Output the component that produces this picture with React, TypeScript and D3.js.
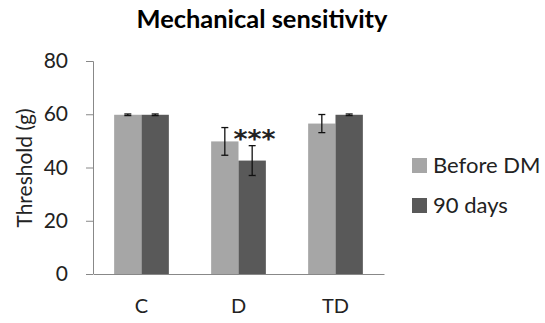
import { useEffect, useRef } from 'react';
import * as d3 from 'd3';

const width = 545;
const height = 323;
const [mt, mr, mb, ml] = [61, 161, 49, 93];
const graphWidth = width - ml - mr;
const graphHeight = height - mt - mb;

const categories = ['C', 'D', 'TD'];
const seriesNames = ['Before DM', '90 days'];
const beforeDM = [59.8, 49.8, 56.5];
const days90 = [59.8, 42.6, 59.8];
const beforeErr = [0.3, 5.2, 3.4];
const days90Err = [0.3, 5.6, 0.3];
const yTicks = [0, 20, 40, 60, 80];
const colors = ['#a6a6a6', '#595959'];
const font = 'Lato, "Open Sans", sans-serif';

function App() {
    const ref = useRef<HTMLDivElement>(null);

    useEffect(() => {
        const root = d3.select(ref.current);
        root.selectAll('*').remove();

        const svg = root
            .append('svg')
            .attr('width', width)
            .attr('height', height)
            .style('display', 'block')
            .style('background', '#fff');

        svg.append('text')
            .attr('x', 262)
            .attr('y', 28)
            .attr('text-anchor', 'middle')
            .attr('font-family', font)
            .attr('font-weight', 'bold')
            .attr('font-size', 24.5)
            .attr('textLength', 251)
            .attr('lengthAdjust', 'spacingAndGlyphs')
            .attr('fill', '#000')
            .text('Mechanical sensitivity');

        const graph = svg.append('g').attr('transform', `translate(${ml}, ${mt})`);

        const x = d3.scaleBand().domain(categories).range([0, graphWidth]).paddingInner(0.436).paddingOuter(0.218);
        const xs = d3.scaleBand().domain(seriesNames).range([0, x.bandwidth()]);
        const y = d3.scaleLinear().domain([0, 80]).range([graphHeight, 0]);

        // y axis
        const yAxisG = graph.append('g').call(d3.axisLeft(y).tickValues(yTicks).tickSize(7).tickPadding(18));
        yAxisG.select('.domain').attr('stroke', '#888').attr('d', `M-7,0.5H0.5V${graphHeight}`);
        yAxisG.selectAll('.tick line').attr('stroke', '#888');
        yAxisG.selectAll('.tick text').attr('font-family', font).attr('font-size', 21).attr('fill', '#222');

        // x axis
        const xAxisG = graph
            .append('g')
            .attr('transform', `translate(0, ${graphHeight})`)
            .call(d3.axisBottom(x).tickSize(0).tickPadding(25));
        xAxisG.select('.domain').attr('stroke', '#888');
        xAxisG.selectAll('.tick text').attr('font-family', font).attr('font-size', 20).attr('fill', '#222');

        const rows = categories.map((c, i) => ({
            c,
            vals: [
                { s: seriesNames[0], v: beforeDM[i], e: beforeErr[i] },
                { s: seriesNames[1], v: days90[i], e: days90Err[i] }
            ]
        }));

        const groups = graph
            .selectAll('g.grp')
            .data(rows)
            .enter()
            .append('g')
            .attr('class', 'grp')
            .attr('transform', (d) => `translate(${x(d.c)}, 0)`);

        groups
            .selectAll('rect')
            .data((d) => d.vals)
            .enter()
            .append('rect')
            .attr('x', (d) => xs(d.s)!)
            .attr('width', xs.bandwidth())
            .attr('y', (d) => y(d.v))
            .attr('height', (d) => graphHeight - y(d.v))
            .attr('fill', (d, i) => colors[i]);

        const err = groups
            .selectAll('g.err')
            .data((d) => d.vals)
            .enter()
            .append('g')
            .attr('class', 'err')
            .attr('stroke', '#111')
            .attr('stroke-width', 1.3);
        const cx = (d: any) => xs(d.s)! + xs.bandwidth() / 2;
        err.append('line')
            .attr('x1', cx)
            .attr('x2', cx)
            .attr('y1', (d) => y(d.v + d.e))
            .attr('y2', (d) => y(d.v - d.e));
        err.append('line')
            .attr('x1', (d) => cx(d) - 3.5)
            .attr('x2', (d) => cx(d) + 3.5)
            .attr('y1', (d) => y(d.v + d.e))
            .attr('y2', (d) => y(d.v + d.e));
        err.append('line')
            .attr('x1', (d) => cx(d) - 3.5)
            .attr('x2', (d) => cx(d) + 3.5)
            .attr('y1', (d) => y(d.v - d.e))
            .attr('y2', (d) => y(d.v - d.e));

        // significance marker
        graph
            .append('text')
            .attr('x', x('D')! + xs.bandwidth() - 5)
            .attr('y', y(beforeDM[1] + beforeErr[1]) + 19)
            .attr('font-family', '"DejaVu Sans", sans-serif')
            .attr('font-weight', 'bold')
            .attr('font-size', 25)
            .attr('textLength', 42)
            .attr('lengthAdjust', 'spacingAndGlyphs')
            .attr('fill', '#222')
            .text('***');

        // legend
        const legend = svg
            .append('g')
            .selectAll('g')
            .data(seriesNames)
            .enter()
            .append('g')
            .attr('transform', (d, i) => `translate(412, ${158 + i * 40})`);
        legend.append('rect').attr('width', 15).attr('height', 15).attr('fill', (d, i) => colors[i]);
        legend
            .append('text')
            .attr('x', 21)
            .attr('y', 15)
            .attr('font-family', font)
            .attr('font-size', 22)
            .attr('fill', '#222')
            .text((d) => d);

        // y label
        svg.append('text')
            .attr('transform', 'translate(32, 168) rotate(-90)')
            .attr('text-anchor', 'middle')
            .attr('font-family', font)
            .attr('font-size', 21)
            .attr('fill', '#222')
            .text('Threshold (g)');
    }, []);

    return <div ref={ref} style={{ position: 'absolute', left: 0, top: 0 }} />;
}

export default App;
